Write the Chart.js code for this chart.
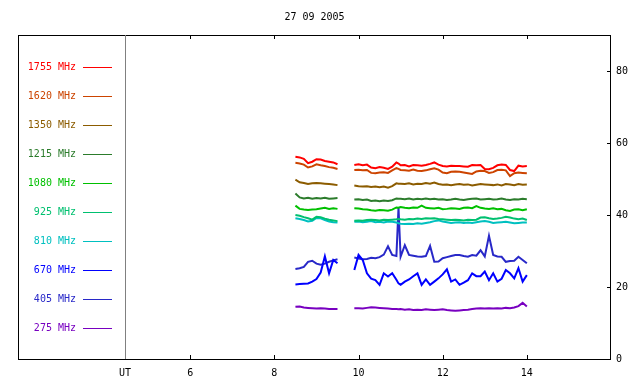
<!DOCTYPE html>
<html>
<head>
<meta charset="utf-8">
<script src="https://cdn.jsdelivr.net/npm/chart.js@4"></script>
<style>
  html, body { margin: 0; padding: 0; background: #fff; }
  canvas { display: block; }
</style>
</head>
<body>
<canvas id="chart" width="640" height="384"></canvas>
<script>
// Radio flux, 27 Sep 2005 (hours UT)
const title = '27 09 2005';
const times = [8.5, 8.6, 8.7, 8.8, 8.9, 9.0, 9.1, 9.2, 9.3, 9.4, 9.5,
  9.7,
  9.9, 10.0, 10.1, 10.2, 10.3, 10.4, 10.5, 10.6, 10.7, 10.8, 10.9, 10.95,
  11.0, 11.1, 11.2, 11.3, 11.4, 11.5, 11.6, 11.7, 11.8, 11.9, 12.0, 12.1,
  12.2, 12.3, 12.4, 12.5, 12.6, 12.7, 12.8, 12.9, 13.0, 13.1, 13.2, 13.3,
  13.4, 13.5, 13.6, 13.7, 13.8, 13.9, 14.0];

const freqs = ['1755 MHz', '1620 MHz', '1350 MHz', '1215 MHz', '1080 MHz',
  '925 MHz', '810 MHz', '670 MHz', '405 MHz', '275 MHz'];
const colors = ['#ff0000', '#cc4400', '#8c5c00', '#2c7c2c', '#00c000',
  '#00c070', '#00c0c0', '#0000ff', '#2828c8', '#7800c0'];

const s1755 = [56.2, 56.0, 55.6, 54.4, 54.8, 55.5, 55.4, 55.0, 54.8, 54.6, 54.1,
  null,
  53.9, 54.1, 53.8, 54.0, 53.2, 53.0, 53.3, 53.1, 52.8, 53.4, 54.6, 54.3,
  53.8, 53.9, 53.5, 53.9, 53.8, 53.7, 53.9, 54.2, 54.6, 54.0, 53.6, 53.5,
  53.7, 53.6, 53.6, 53.5, 53.4, 53.9, 53.8, 53.9, 52.8, 52.7, 53.1, 53.8,
  54.0, 53.9, 52.5, 52.2, 53.7, 53.5, 53.6];
const s1620 = [54.5, 54.3, 54.0, 53.2, 53.5, 54.1, 53.8, 53.6, 53.3, 53.1, 52.8,
  null,
  52.5, 52.6, 52.4, 52.5, 51.7, 51.6, 51.8, 51.9, 51.7, 52.4, 53.0, 52.8,
  52.5, 52.4, 52.3, 52.6, 52.3, 52.2, 52.4, 52.7, 53.0, 52.6, 51.8, 51.6,
  52.0, 52.1, 52.0, 51.8, 51.6, 51.4, 52.1, 52.3, 52.2, 51.7, 51.9, 52.5,
  52.6, 52.4, 50.8, 51.6, 51.8, 51.7, 51.6];
const s1350 = [49.8, 49.1, 48.9, 48.6, 48.8, 48.9, 48.8, 48.7, 48.6, 48.5, 48.3,
  null,
  48.2, 48.0, 47.9, 48.0, 47.8, 47.9, 47.7, 47.9, 47.6, 48.0, 48.8, 48.7,
  48.7, 48.6, 48.8, 48.5, 48.7, 48.6, 48.9, 48.7, 49.0, 48.6, 48.4, 48.5,
  48.3, 48.5, 48.6, 48.4, 48.5, 48.2, 48.4, 48.6, 48.5, 48.4, 48.3, 48.5,
  48.2, 48.6, 48.5, 48.3, 48.6, 48.4, 48.5];
const s1215 = [46.0, 44.9, 44.6, 44.8, 44.5, 44.7, 44.6, 44.8, 44.5, 44.6, 44.7,
  null,
  44.3, 44.4, 44.2, 44.3, 43.9, 44.0, 43.8, 44.0, 43.9, 44.1, 44.6, 44.5,
  44.5, 44.4, 44.6, 44.3, 44.5, 44.4, 44.6, 44.4, 44.5, 44.3, 44.4, 44.2,
  44.3, 44.5, 44.3, 44.2, 44.4, 44.5, 44.6, 44.3, 44.4, 44.5, 44.3, 44.4,
  44.6, 44.3, 44.2, 44.4, 44.3, 44.5, 44.4];
const s1080 = [42.6, 41.7, 41.5, 41.4, 41.5, 41.6, 41.8, 42.0, 41.7, 41.9, 41.7,
  null,
  41.9, 41.8, 41.6, 41.5, 41.3, 41.2, 41.4, 41.3, 41.2, 41.5, 42.1, 42.0,
  42.2, 42.0, 41.9, 42.1, 42.0, 42.6, 42.0, 41.9, 41.8, 42.0, 41.6, 41.7,
  41.9, 41.8, 41.7, 42.0, 42.1, 41.9, 42.5, 42.0, 41.8, 41.7, 41.9, 41.6,
  41.7, 41.3, 41.1, 41.5, 41.6, 41.3, 41.6];
const s925 = [40.0, 39.8, 39.4, 39.1, 38.7, 39.5, 39.4, 39.0, 38.7, 38.5, 38.3,
  null,
  38.4, 38.5, 38.4, 38.6, 38.7, 38.6, 38.5, 38.7, 38.6, 38.7, 38.8, 38.9,
  38.8, 38.7, 38.9, 38.8, 39.0, 38.9, 39.1, 39.0, 39.1, 38.9, 38.8, 38.7,
  38.6, 38.7, 38.6, 38.5, 38.7, 38.6, 38.7, 39.3, 39.4, 39.1, 38.9, 39.0,
  39.2, 39.5, 39.3, 39.0, 38.8, 39.0, 38.6];
const s810 = [39.1, 38.9, 38.6, 38.2, 38.4, 39.2, 39.1, 38.6, 38.2, 38.0, 37.9,
  null,
  38.1, 38.2, 38.0, 38.1, 38.3, 38.0, 38.1, 37.9, 38.2, 38.1, 37.9, 37.7,
  37.6, 37.5, 37.6, 37.5, 37.7, 37.6, 37.8, 38.0, 38.3, 38.5, 38.2, 38.0,
  37.8, 37.9, 38.0, 37.8, 37.9, 37.8, 38.0, 38.2, 38.3, 38.1, 37.8, 37.9,
  38.0, 38.1, 37.9, 37.7, 37.8, 37.9, 37.9];
const s670 = [20.7, 20.8, 20.9, 21.0, 21.5, 22.2, 24.0, 28.5, 23.8, 27.5, 26.6,
  null,
  24.7, 28.9, 27.5, 23.8, 22.3, 21.9, 20.6, 23.8, 22.9, 23.8, 22.0, 21.0,
  20.6, 21.5, 22.1, 23.0, 23.8, 20.6, 22.1, 20.6, 21.5, 22.4, 23.5, 24.9,
  21.5, 22.1, 20.6, 21.2, 21.9, 23.8, 23.0, 23.0, 24.3, 21.9, 23.8, 21.5,
  22.3, 24.7, 23.8, 22.4, 25.2, 21.5, 23.3];
const s405 = [25.0, 25.2, 25.6, 27.0, 27.3, 26.5, 26.2, 26.5, 27.0, 27.4, 27.7,
  null,
  28.2, 27.9, 27.7, 27.8, 28.1, 28.0, 28.3, 29.0, 31.3, 28.9, 28.6, 42.0,
  28.4, 31.6, 28.9, 28.7, 28.5, 28.4, 28.6, 31.4, 27.0, 27.1, 28.0, 28.3,
  28.6, 28.9, 28.9, 28.6, 28.4, 28.9, 28.7, 30.2, 28.5, 34.2, 28.9, 28.5,
  28.4, 27.0, 27.2, 27.3, 28.4, 27.5, 26.6];
const s275 = [14.5, 14.6, 14.3, 14.2, 14.1, 14.0, 14.1, 14.0, 13.9, 13.9, 13.9,
  null,
  14.1, 14.1, 14.0, 14.2, 14.4, 14.3, 14.2, 14.1, 14.0, 13.9, 13.9, 13.8,
  13.9, 13.7, 13.8, 13.6, 13.7, 13.6, 13.8, 13.7, 13.6, 13.7, 13.8, 13.6,
  13.5, 13.4, 13.5, 13.6, 13.7, 13.9, 14.0, 14.1, 14.0, 14.1, 14.0, 14.1,
  14.0, 14.2, 14.1, 14.3, 14.7, 15.6, 14.6];

const xTicks = [6, 8, 10, 12, 14];
const yTicks = [0, 20, 40, 60, 80];
const xMin = 4.45, xMax = 16;
const yMin = 0, yMax = 90;

const series = [s1755, s1620, s1350, s1215, s1080, s925, s810, s670, s405, s275];
const FONT = "'DejaVu Sans Mono', monospace";

// frame, inward ticks, title and the left-hand legend
const framePlugin = {
  id: 'frame',
  afterDraw(chart) {
    const ctx = chart.ctx;
    const a = chart.chartArea;
    const xs = chart.scales.x, ys = chart.scales.y;
    ctx.save();
    ctx.lineWidth = 1;

    ctx.strokeStyle = '#000';
    ctx.strokeRect(18.5, a.top + 0.5, Math.round(a.right) - 19, Math.round(a.bottom - a.top));

    const ut = Math.round(xs.getPixelForValue(xMin)) + 0.5;
    ctx.strokeStyle = '#808080';
    ctx.beginPath();
    ctx.moveTo(ut, a.top);
    ctx.lineTo(ut, a.bottom);
    ctx.stroke();

    ctx.strokeStyle = '#000';
    ctx.beginPath();
    xTicks.forEach(v => {
      const px = Math.round(xs.getPixelForValue(v)) + 0.5;
      ctx.moveTo(px, a.top);
      ctx.lineTo(px, a.top + 4);
      ctx.moveTo(px, a.bottom);
      ctx.lineTo(px, a.bottom - 4);
    });
    yTicks.slice(1).forEach(v => {
      const py = Math.round(ys.getPixelForValue(v)) + 0.5;
      ctx.moveTo(a.right, py);
      ctx.lineTo(a.right - 4, py);
    });
    ctx.stroke();

    ctx.font = '10px ' + FONT;
    ctx.fillStyle = '#000';
    ctx.textAlign = 'center';
    ctx.textBaseline = 'middle';
    ctx.fillText(title, (18 + a.right) / 2, 17);

    ctx.textAlign = 'right';
    freqs.forEach((f, i) => {
      const y = 67 + 29 * i;
      ctx.fillStyle = colors[i];
      ctx.fillText(f, 76, y);
      ctx.strokeStyle = colors[i];
      ctx.beginPath();
      ctx.moveTo(83, y + 0.5);
      ctx.lineTo(112, y + 0.5);
      ctx.stroke();
    });
    ctx.restore();
  }
};

new Chart(document.getElementById('chart'), {
  type: 'line',
  data: {
    labels: times,
    datasets: series.map((s, i) => ({
      label: freqs[i],
      data: s,
      borderColor: colors[i],
      borderWidth: 2,
      pointRadius: 0,
      tension: 0,
      spanGaps: false
    }))
  },
  options: {
    responsive: false,
    animation: false,
    layout: { padding: { left: 125, top: 35, right: 0, bottom: 0 } },
    plugins: { legend: { display: false }, tooltip: { enabled: false } },
    scales: {
      x: {
        type: 'linear',
        min: xMin,
        max: xMax,
        grid: { display: false, drawTicks: false },
        border: { display: false },
        afterBuildTicks: s => { s.ticks = [xMin].concat(xTicks).map(v => ({ value: v })); },
        afterFit: s => { s.height = 25; },
        ticks: {
          autoSkip: false,
          maxRotation: 0,
          padding: 8,
          color: '#000',
          font: { family: FONT, size: 10 },
          callback: v => v === xMin ? 'UT' : String(v)
        }
      },
      y: {
        position: 'right',
        min: yMin,
        max: yMax,
        grid: { display: false, drawTicks: false },
        border: { display: false },
        afterBuildTicks: s => { s.ticks = yTicks.map(v => ({ value: v })); },
        afterFit: s => { s.width = 29; },
        ticks: {
          padding: 5,
          color: '#000',
          font: { family: FONT, size: 10 }
        }
      }
    }
  },
  plugins: [framePlugin]
});
</script>
</body>
</html>
